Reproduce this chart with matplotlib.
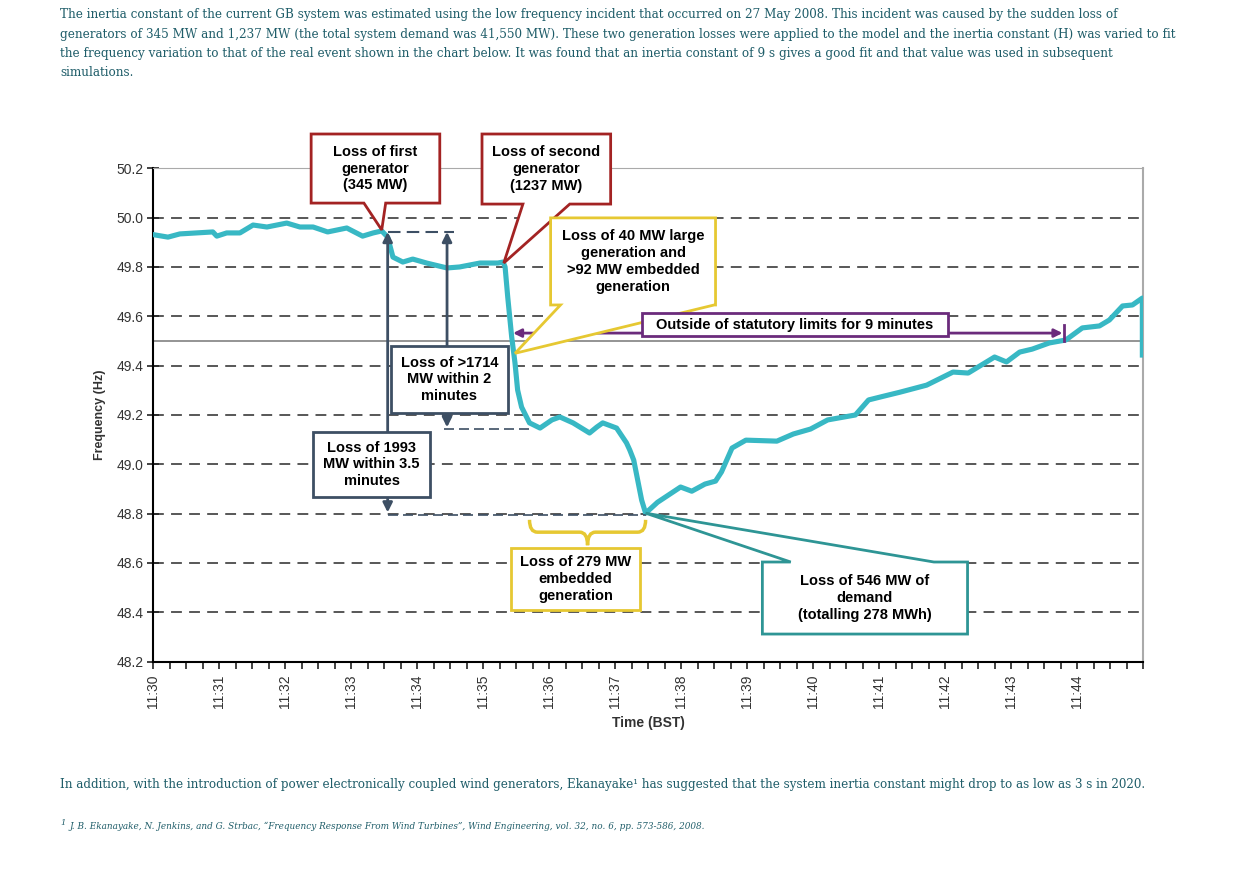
import numpy as np
import matplotlib.pyplot as plt
from matplotlib.patches import Polygon, PathPatch
from matplotlib.path import Path

# minutes after 11:30 and frequency (Hz)
minutes = [0.02, 0.22, 0.40, 0.90, 0.96, 1.11, 1.31, 1.51, 1.72, 2.02, 2.22, 2.42, 2.64, 2.93, 3.17, 3.33, 3.46,
           3.55, 3.63, 3.78, 3.93, 4.14, 4.45, 4.64, 4.95, 5.22, 5.30, 5.33,
           5.37, 5.43, 5.48, 5.52, 5.58, 5.70, 5.86, 6.04, 6.16, 6.36, 6.61, 6.72, 6.81, 7.02, 7.17, 7.22,
           7.28, 7.34, 7.40, 7.46,
           7.64, 7.99, 8.16, 8.36, 8.52, 8.61, 8.77, 8.98, 9.45, 9.70, 9.96, 10.22, 10.64, 10.84, 11.05,
           11.31, 11.72, 12.12, 12.35, 12.75, 12.93, 13.13, 13.32, 13.58, 13.83, 14.08, 14.34, 14.49,
           14.69, 14.84, 14.99, 14.99]
freq = [49.930, 49.921, 49.934, 49.942, 49.925, 49.938, 49.938, 49.970, 49.962, 49.978, 49.962, 49.962, 49.942,
        49.958, 49.925, 49.938, 49.946,
        49.921, 49.840, 49.820, 49.832, 49.816, 49.796, 49.800, 49.816, 49.816, 49.820, 49.800,
        49.678, 49.516, 49.411, 49.301, 49.232, 49.168, 49.147, 49.180, 49.192, 49.168, 49.127, 49.151,
        49.168, 49.147, 49.087, 49.058,
        49.017, 48.936, 48.855, 48.802,
        48.846, 48.908, 48.891, 48.920, 48.932, 48.969, 49.066, 49.098, 49.094, 49.123, 49.143, 49.180,
        49.200, 49.261, 49.275,
        49.292, 49.321, 49.374, 49.370, 49.435, 49.415, 49.455, 49.467, 49.492, 49.504, 49.553, 49.561,
        49.585, 49.642, 49.646, 49.674, 49.443]

tick_labels = ['11:%02d' % m for m in range(30, 45)]
grid_levels = [50.0, 49.8, 49.6, 49.4, 49.2, 49.0, 48.8, 48.6, 48.4]

para_top = [
    "The inertia constant of the current GB system was estimated using the low frequency incident that occurred on 27 May 2008. This incident was caused by the sudden loss of",
    "generators of 345 MW and 1,237 MW (the total system demand was 41,550 MW). These two generation losses were applied to the model and the inertia constant (H) was varied to fit",
    "the frequency variation to that of the real event shown in the chart below. It was found that an inertia constant of 9 s gives a good fit and that value was used in subsequent",
    "simulations.",
]
para_bottom = ("In addition, with the introduction of power electronically coupled wind generators, Ekanayake\u00b9 has "
               "suggested that the system inertia constant might drop to as low as 3 s in 2020.")
footnote = ("J. B. Ekanayake, N. Jenkins, and G. Strbac, \u201cFrequency Response From Wind Turbines\u201d, "
            "Wind Engineering, vol. 32, no. 6, pp. 573-586, 2008.")

line_col = '#38b8c4'
red = '#a32323'
yellow = '#e6c832'
purple = '#6b2b7c'
slate = '#3d4f64'
teal = '#2e9595'
text_col = '#1f5d69'

fig = plt.figure(figsize=(12.58, 8.72), dpi=100)
ax = fig.add_axes([0.1220, 0.2412, 0.7866, 0.5658])

# page text
for i, s in enumerate(para_top):
    fig.text(0.0477, 0.9828 - i * 0.0218, s, fontsize=8.65, family='DejaVu Serif', color=text_col,
             va='center', ha='left')
fig.text(0.0477, 0.0998, para_bottom, fontsize=8.6, family='DejaVu Serif', color=text_col, va='center')
fig.text(0.0477, 0.0560, '1', fontsize=6, family='DejaVu Serif', style='italic', color=text_col, va='center')
fig.text(0.0556, 0.0528, footnote, fontsize=6.4, family='DejaVu Serif', style='italic', color=text_col,
         va='center')

# axes look
ax.set_xlim(0, 15)
ax.set_ylim(48.2, 50.2)
ax.set_xticks(range(15))
ax.set_xticks(np.arange(0, 15.01, 0.25), minor=True)
ax.set_xticklabels(tick_labels, rotation=90, fontsize=10, color='#333333', family='Liberation Sans')
ax.set_yticks([50.2] + grid_levels + [48.2])
ax.set_yticklabels(['%.1f' % v for v in [50.2] + grid_levels + [48.2]], fontsize=10, color='#333333',
                   family='Liberation Sans')
ax.tick_params(axis='x', which='both', direction='out', length=5, width=1.2, color='#222222', pad=4)
ax.tick_params(axis='y', direction='inout', length=8, width=1.2, color='#222222', pad=3)
ax.spines['left'].set_linewidth(1.5)
ax.spines['bottom'].set_linewidth(1.5)
ax.spines['top'].set_color('#aaaaaa')
ax.spines['right'].set_color('#aaaaaa')
ax.spines['right'].set_linewidth(1.5)
ax.set_ylabel('Frequency (Hz)', fontsize=9, fontweight='bold', color='#333333', family='Liberation Sans',
              labelpad=8)
ax.set_xlabel('Time (BST)', fontsize=10, fontweight='bold', color='#333333', family='Liberation Sans',
              labelpad=6)

for lv in grid_levels:
    ax.axhline(lv, color='#4a4a4a', lw=1.3, ls=(0, (6, 4)), zorder=1)
ax.axhline(49.5, color='#777777', lw=1.1, zorder=1)

ax.plot(minutes, freq, color=line_col, lw=3.7, solid_joinstyle='round', zorder=3)


def callout(x0, x1, y0, y1, bl, br, tip, col, lines, side='bottom', lw=2.0):
    if side == 'bottom':
        verts = [(x0, y1), (x1, y1), (x1, y0), (br, y0), tip, (bl, y0), (x0, y0)]
    else:
        verts = [(x0, y1), (bl, y1), tip, (br, y1), (x1, y1), (x1, y0), (x0, y0)]
    ax.add_patch(Polygon(verts, closed=True, fc='white', ec=col, lw=lw, joinstyle='miter',
                         clip_on=False, zorder=6))
    ax.text((x0 + x1) / 2, (y0 + y1) / 2, lines, ha='center', va='center', fontsize=10.5,
            fontweight='bold', family='Liberation Sans', linespacing=1.25, zorder=7, clip_on=False)


def box(x0, x1, y0, y1, col, lines, lw=2.0):
    ax.add_patch(Polygon([(x0, y0), (x1, y0), (x1, y1), (x0, y1)], closed=True, fc='white', ec=col,
                         lw=lw, clip_on=False, zorder=6))
    ax.text((x0 + x1) / 2, (y0 + y1) / 2, lines, ha='center', va='center', fontsize=10.5,
            fontweight='bold', family='Liberation Sans', linespacing=1.25, zorder=7, clip_on=False)


callout(2.39, 4.34, 50.059, 50.339, 3.19, 3.52, (3.46, 49.950), red,
        'Loss of first\ngenerator\n(345 MW)')
callout(4.98, 6.93, 50.055, 50.339, 5.60, 6.31, (5.31, 49.816), red,
        'Loss of second\ngenerator\n(1237 MW)')
callout(6.02, 8.52, 49.646, 49.999, 6.17, 8.50, (5.48, 49.450), yellow,
        'Loss of 40 MW large\ngeneration and\n>92 MW embedded\ngeneration')

# statutory limits arrow
ax.annotate('', xy=(5.45, 49.532), xytext=(13.78, 49.532),
            arrowprops=dict(arrowstyle='<|-|>', color=purple, lw=2, mutation_scale=12,
                            shrinkA=0, shrinkB=0), zorder=5)
ax.plot([13.80, 13.80], [49.499, 49.564], color=purple, lw=2, zorder=5)
box(7.40, 12.04, 49.520, 49.613, purple, 'Outside of statutory limits for 9 minutes')

# loss of >1714 MW in 2 minutes
ax.plot([3.55, 4.55], [49.942, 49.942], color=slate, lw=1.5, ls=(0, (6, 3)), zorder=4)
ax.plot([4.40, 5.75], [49.145, 49.145], color=slate, lw=1.2, ls=(0, (6, 3)), zorder=4)
ax.plot([3.55, 7.46], [48.795, 48.795], color=slate, lw=1.2, ls=(0, (6, 3)), zorder=4)
arrow_kw = dict(arrowstyle='-|>', color=slate, lw=2, mutation_scale=14, shrinkA=0, shrinkB=0)
ax.annotate('', xy=(4.45, 49.942), xytext=(4.45, 49.40), arrowprops=arrow_kw, zorder=5)
ax.annotate('', xy=(4.45, 49.150), xytext=(4.45, 49.25), arrowprops=arrow_kw, zorder=5)
box(3.60, 5.37, 49.208, 49.480, slate, 'Loss of >1714\nMW within 2\nminutes')

ax.annotate('', xy=(3.55, 49.942), xytext=(3.55, 49.0), arrowprops=arrow_kw, zorder=5)
ax.annotate('', xy=(3.55, 48.805), xytext=(3.55, 48.95), arrowprops=arrow_kw, zorder=5)
box(2.42, 4.19, 48.869, 49.131, slate, 'Loss of 1993\nMW within 3.5\nminutes')

# brace for embedded generation loss
bx0, bx1, bxm = 5.70, 7.46, 6.58
ytop, ymid, ytip = 48.775, 48.725, 48.672
brace = Path([(bx0, ytop), (bx0, ymid), (bx0 + 0.12, ymid),
              (bxm - 0.12, ymid), (bxm, ymid), (bxm, ytip),
              (bxm, ymid), (bxm + 0.12, ymid),
              (bx1 - 0.12, ymid), (bx1, ymid), (bx1, ytop)],
             [Path.MOVETO, Path.CURVE3, Path.CURVE3,
              Path.LINETO, Path.CURVE3, Path.CURVE3,
              Path.CURVE3, Path.CURVE3,
              Path.LINETO, Path.CURVE3, Path.CURVE3])
ax.add_patch(PathPatch(brace, fc='none', ec=yellow, lw=2.5, zorder=5))
box(5.42, 7.37, 48.409, 48.660, yellow, 'Loss of 279 MW\nembedded\ngeneration')

callout(9.23, 12.34, 48.312, 48.604, 9.66, 11.83, (7.46, 48.802), teal,
        'Loss of 546 MW of\ndemand\n(totalling 278 MWh)', side='top')

fig.savefig('out.png', dpi=100)
